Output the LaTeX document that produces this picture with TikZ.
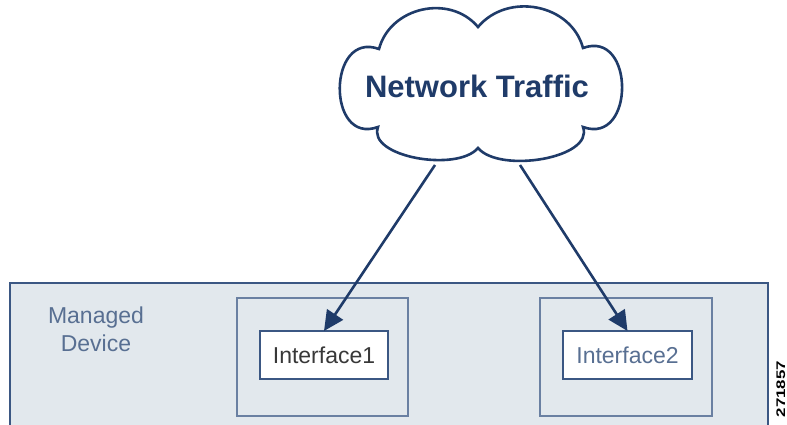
\documentclass[tikz,border=0pt]{standalone}
\usepackage{fontspec}
\setmainfont{Liberation Sans}
\usetikzlibrary{arrows.meta,positioning}
\definecolor{navy}{HTML}{1F3B69}
\definecolor{boxline}{HTML}{3B5783}
\definecolor{portline}{HTML}{6A80A2}
\definecolor{devfill}{HTML}{E2E8ED}
\definecolor{devtext}{HTML}{586F92}

\begin{document}
\begin{tikzpicture}[x=1pt,y=1pt,
    every node/.style={inner sep=0pt, outer sep=0pt},
    cloudline/.style={draw=navy, line width=2.6pt, fill=white},
    devbox/.style={draw=boxline, line width=2.2pt, fill=devfill},
    portbox/.style={draw=portline, line width=2pt},
    ifbox/.style={draw=boxline, line width=2pt, fill=white, font=\fontsize{23}{26}\selectfont},
    flow/.style={draw=navy, line width=2.6pt, -{Triangle[length=20pt,width=19pt]}}]
    \useasboundingbox (0,0) rectangle (787,425);

    % device and its ports
    \node[devbox, minimum width=758, minimum height=152] (device) at (389,66) {};
    \node[portbox, minimum width=171, minimum height=118] (port1) at (322.5,68) {};
    \node[portbox, minimum width=172, minimum height=118] (port2) at (626,68) {};
    \node[ifbox, minimum width=128, minimum height=48, text=black!78] (if1) at (324,70) {Interface1};
    \node[ifbox, minimum width=129, minimum height=48, text=devtext] (if2) at (627.5,70) {Interface2};
    \node[align=center, text=devtext, font=\fontsize{23}{28}\selectfont] (label) at (96,96) {Managed\\Device};

    % cloud
    \coordinate (1) at (379,376);
    \coordinate (2) at (478,398);
    \coordinate (3) at (583,377);
    \coordinate (4) at (583,298);
    \coordinate (5) at (478,277);
    \coordinate (6) at (378,298);
    \path[cloudline] (1) to[out=75,in=130,looseness=1.1] (2) to[out=50,in=105,looseness=1.1] (3)
        to[out=20,in=-20,looseness=1.8] (4) to[out=-70,in=-50,looseness=0.8] (5)
        to[out=-130,in=-110,looseness=0.8] (6) to[out=200,in=160,looseness=1.8] (1) -- cycle;
    \node[text=navy, font=\fontsize{31}{34}\bfseries] (traffic) at (477,339) {Network Traffic};

    \coordinate (7) at (435,260);
    \coordinate (8) at (520,260);
    \draw[flow] (7) -- (if1.north);
    \draw[flow] (8) -- (if2.north);

    \node[rotate=90, anchor=base east, font=\fontsize{12.5}{13}\bfseries] (tag) at (785,64) {\scalebox{1.35}[1]{271857}};
\end{tikzpicture}
\end{document}
